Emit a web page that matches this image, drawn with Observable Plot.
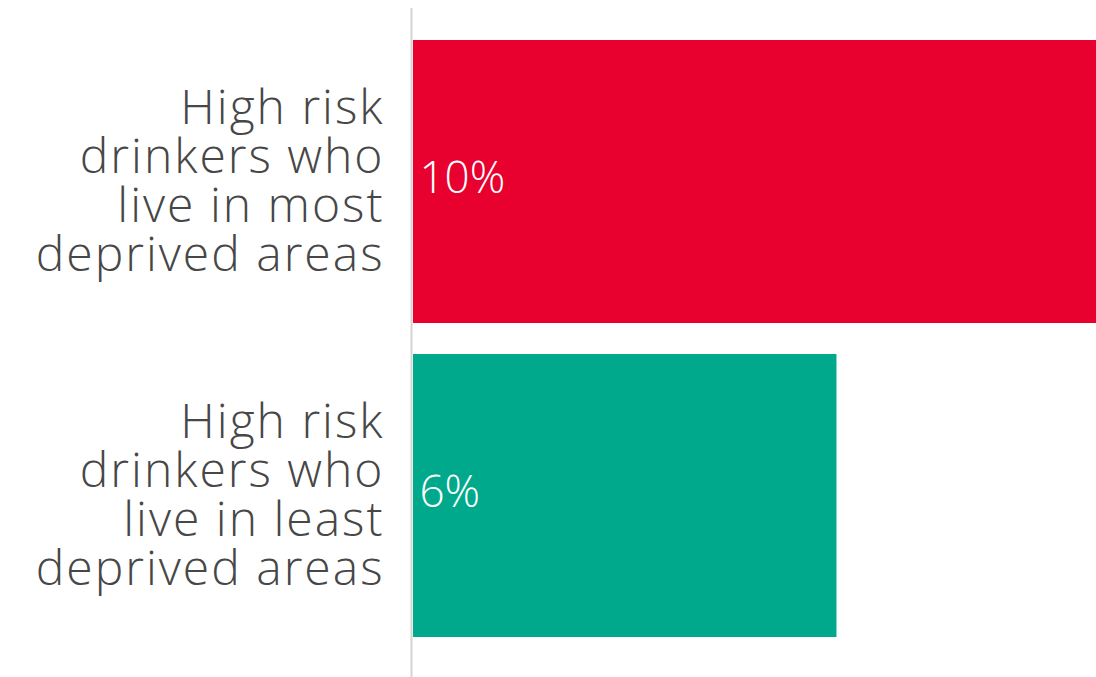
<!DOCTYPE html>
<html>
<head>
<meta charset="utf-8">
<script src="https://cdn.jsdelivr.net/npm/d3@7"></script>
<script src="https://cdn.jsdelivr.net/npm/@observablehq/plot@0.6"></script>
<style>
  html, body { margin: 0; padding: 0; background: #fff; }
  #chart svg { display: block; }
  #chart g[fill="#474747"] { letter-spacing: 2px; }
</style>
</head>
<body>
<div id="chart"></div>
<script>
const categories = [
  "High risk\ndrinkers who\nlive in most\ndeprived areas",
  "High risk\ndrinkers who\nlive in least\ndeprived areas"
];
const values = [10, 6.2];
const valueLabels = ["10%", "6%"];
const colors = ["#e8002f", "#00a98b"];

const data = categories.map((c, i) => ({category: c, value: values[i], label: valueLabels[i], color: colors[i]}));

const font = "'Open Sans', Lato, sans-serif";

const chart = Plot.plot({
  width: 1096,
  height: 677,
  marginLeft: 413,
  marginRight: 0,
  marginTop: 8,
  marginBottom: 0,
  style: {fontFamily: font, background: "#fff"},
  x: {domain: [0, 10], axis: null},
  y: {domain: categories, range: [8, 669], padding: 0.1, axis: null},
  marks: [
    Plot.barX(data, {x: "value", y: "category", fill: "color"}),
    Plot.ruleX([0], {stroke: "#d4d4d4", strokeWidth: 2, dx: -2}),
    Plot.text(data, {
      x: 0, y: "category", text: "category",
      textAnchor: "end", dx: -29, dy: 0,
      fontSize: 48, lineHeight: 1.02, fontWeight: 300,
      fill: "#474747", fontFamily: font
    }),
    Plot.text(data, {
      x: 0, y: "category", text: "label",
      textAnchor: "start", dx: 6, dy: -3,
      fontSize: 44, fontWeight: 300,
      fill: "#ffffff", fontFamily: font
    })
  ]
});
document.getElementById("chart").appendChild(chart);
</script>
</body>
</html>
